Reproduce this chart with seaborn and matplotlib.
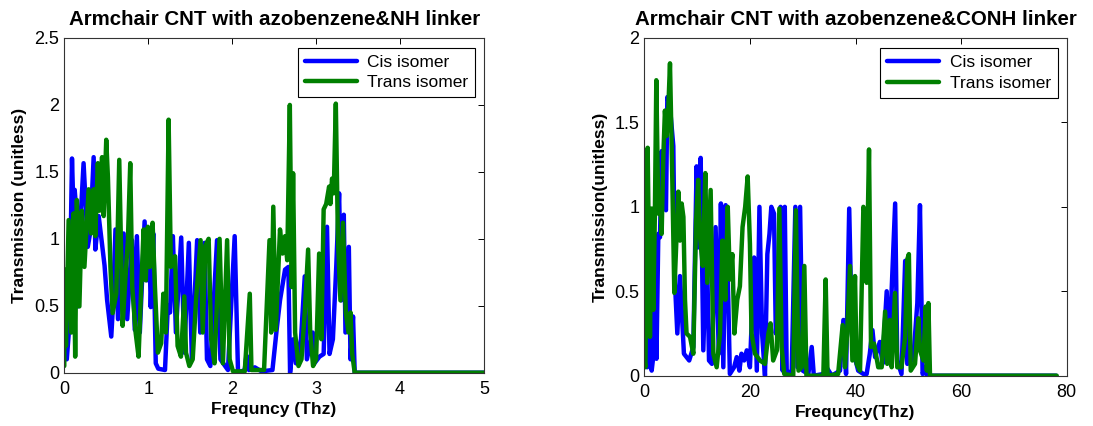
import matplotlib
matplotlib.use("Agg")
import matplotlib.pyplot as plt
import seaborn as sns
import pandas as pd

# ---------------- data: left panel (NH linker) ----------------
cis_nh_f = [0.0, 0.03, 0.06, 0.092, 0.11, 0.124, 0.145, 0.163, 0.19, 0.23, 0.26, 0.28, 0.31, 0.35,
            0.37, 0.41, 0.45, 0.48, 0.51, 0.56, 0.58, 0.61, 0.64, 0.707, 0.75, 0.806, 0.84, 0.865,
            0.90, 0.957, 0.984, 1.01, 1.03, 1.06, 1.09, 1.12, 1.20, 1.234, 1.26, 1.294, 1.33, 1.393,
            1.43, 1.484, 1.52, 1.583, 1.62, 1.671, 1.70, 1.74, 1.82, 1.86, 1.95, 2.03, 2.07, 2.15,
            2.17, 2.20, 2.27, 2.35, 2.48, 2.53, 2.57, 2.63, 2.67, 2.69, 2.73, 2.76, 2.82, 2.865,
            2.89, 2.96, 2.98, 3.04, 3.09, 3.13, 3.16, 3.20, 3.24, 3.274, 3.30, 3.33, 3.35, 3.39,
            3.41, 3.44, 3.46, 5.0]
cis_nh_t = [0.30, 0.10, 0.35, 1.60, 1.20, 1.366, 1.20, 0.495, 1.10, 1.565, 1.20, 0.94, 1.05, 1.61,
            0.92, 1.17, 0.96, 0.80, 0.545, 0.27, 0.50, 1.07, 0.40, 1.04, 0.40, 0.99, 0.32, 1.02,
            0.30, 1.13, 0.69, 1.05, 0.49, 1.04, 0.07, 0.03, 0.02, 0.50, 0.45, 1.02, 0.30, 1.01,
            0.15, 0.97, 0.10, 0.99, 0.30, 0.97, 0.10, 0.05, 0.99, 0.10, 0.02, 1.02, 0.0, 0.02,
            0.13, 0.02, 0.04, 0.01, 0.02, 0.32, 0.54, 0.77, 0.79, 0.0, 0.25, 0.07, 0.25, 0.72,
            0.10, 0.30, 0.07, 0.12, 0.14, 1.09, 0.14, 0.25, 0.79, 1.34, 0.54, 1.18, 0.30, 0.94,
            0.10, 0.42, 0.0, 0.0]

trans_nh_f = [0.0, 0.004, 0.02, 0.052, 0.084, 0.11, 0.13, 0.15, 0.18, 0.21, 0.24, 0.29, 0.32, 0.35,
              0.37, 0.40, 0.42, 0.45, 0.47, 0.50, 0.52, 0.55, 0.576, 0.62, 0.655, 0.695, 0.727,
              0.758, 0.786, 0.81, 0.85, 0.885, 0.917, 0.945, 0.97, 0.996, 1.02, 1.052, 1.08, 1.115,
              1.155, 1.18, 1.21, 1.243, 1.27, 1.32, 1.35, 1.39, 1.43, 1.45, 1.49, 1.53, 1.57, 1.624,
              1.65, 1.68, 1.72, 1.75, 1.79, 1.85, 1.89, 1.94, 1.97, 2.01, 2.15, 2.21, 2.23, 2.38,
              2.445, 2.465, 2.49, 2.52, 2.57, 2.60, 2.63, 2.656, 2.687, 2.71, 2.726, 2.75, 2.79,
              2.826, 2.865, 2.905, 2.93, 2.964, 3.0, 3.036, 3.063, 3.09, 3.12, 3.155, 3.17, 3.19,
              3.21, 3.235, 3.26, 3.29, 3.32, 3.354, 3.386, 3.41, 3.43, 3.46, 5.0]
trans_nh_t = [0.05, 0.77, 0.20, 1.14, 0.30, 1.19, 0.12, 1.29, 0.495, 1.21, 0.79, 1.37, 1.04, 1.37,
              1.02, 1.565, 1.21, 1.61, 1.17, 1.74, 1.46, 0.79, 0.445, 0.59, 1.59, 0.35, 0.69,
              0.99, 1.565, 0.64, 0.30, 0.12, 0.64, 1.07, 0.69, 1.09, 0.79, 1.12, 0.64, 0.15,
              0.22, 0.59, 0.30, 1.89, 0.79, 0.87, 0.20, 0.12, 0.57, 0.15, 0.05, 0.10, 0.545, 0.99,
              0.30, 0.95, 1.0, 0.25, 0.07, 1.0, 0.07, 0.99, 0.10, 0.01, 0.01, 0.59, 0.02, 0.02,
              0.99, 0.30, 1.24, 0.32, 1.07, 0.89, 1.02, 0.84, 2.0, 0.64, 1.49, 0.30, 0.05,
              0.10, 0.45, 0.92, 0.30, 0.05, 0.10, 0.89, 0.25, 1.22, 1.26, 1.39, 1.26, 1.45,
              1.34, 2.01, 1.0, 0.54, 1.12, 0.45, 0.30, 0.45, 0.14, 0.0, 0.0]

# ---------------- data: right panel (CONH linker) ----------------
cis_conh_f = [0.0, 0.57, 0.95, 1.39, 1.83, 2.0, 2.3, 2.65, 2.97, 3.28, 3.6, 4.1, 4.36, 4.86, 5.49,
              5.8, 6.25, 6.75, 7.5, 8.5, 9.28, 9.9, 10.2, 10.67, 11.17, 11.8, 12.25, 12.8, 13.5,
              14.1, 14.5, 14.96, 15.4, 15.9, 16.2, 17.0, 17.5, 18.0, 18.4, 18.9, 19.4, 20.0, 20.8,
              21.3, 21.8, 22.3, 22.85, 23.3, 23.7, 24.05, 24.56, 24.9, 25.4, 25.8, 26.2, 26.6,
              26.96, 27.9, 28.6, 29.0, 29.5, 30.0, 31.06, 31.7, 32.1, 33.9, 34.5, 35.5, 37.06,
              37.7, 38.2, 38.8, 39.3, 39.7, 40.5, 41.5, 42.1, 42.7, 43.2, 43.7, 44.6, 45.1, 45.9,
              46.3, 47.5, 47.9, 48.7, 49.4, 49.8, 50.6, 51.1, 51.7, 52.2, 52.7, 53.2, 53.5, 78.0]
cis_conh_t = [0.70, 0.05, 0.99, 0.03, 0.15, 0.49, 0.10, 0.84, 0.82, 1.33, 1.04, 0.98, 1.65, 1.59, 1.36,
              0.55, 0.25, 0.59, 0.13, 0.09, 0.17, 1.24, 0.76, 1.29, 0.15, 0.84, 0.09, 0.07, 0.88,
              0.13, 1.02, 0.05, 1.01, 0.45, 0.01, 0.05, 0.11, 0.03, 0.13, 0.09, 0.15, 0.05, 0.70,
              0.03, 1.0, 0.25, 0.0, 0.72, 0.84, 1.0, 0.96, 0.25, 0.45, 1.0, 0.03, 1.0,
              0.03, 0.01, 1.0, 0.05, 1.0, 0.03, 0.01, 0.17, 0.0, 0.01, 0.05, 0.0, 0.03,
              0.33, 0.01, 0.99, 0.25, 0.13, 0.03, 0.01, 0.01, 0.13, 0.27, 0.11, 0.20, 0.07, 0.50,
              0.09, 1.02, 0.09, 0.01, 0.68, 0.07, 0.09, 0.17, 0.43, 1.01, 0.01, 0.05, 0.0, 0.0]

trans_conh_f = [0.0, 0.2, 0.63, 1.07, 1.39, 1.7, 2.0, 2.27, 2.65, 2.97, 3.28, 3.6, 3.9, 4.23, 4.55,
                4.86, 5.3, 5.68, 6.12, 6.44, 6.75, 7.07, 7.4, 7.7, 8.0, 8.65, 9.28, 9.8, 10.2, 10.5,
                11.05, 11.55, 11.93, 12.56, 13.07, 13.7, 14.33, 14.8, 15.34, 15.8, 16.2, 16.67,
                17.05, 17.6, 18.1, 18.6, 19.1, 19.57, 20.0, 20.3, 20.96, 21.9, 22.85, 23.5, 23.9,
                24.4, 25.1, 25.57, 26.0, 26.5, 28.2, 28.7, 29.2, 29.8, 30.3, 30.7, 33.9, 34.34,
                34.7, 36.7, 37.56, 38.0, 38.4, 38.95, 39.4, 39.9, 40.2, 40.85, 41.48, 41.8, 42.1,
                42.55, 42.93, 43.5, 44.3, 44.95, 45.6, 46.0, 46.5, 46.84, 47.47, 47.9, 48.7, 49.4,
                49.8, 50.1, 50.45, 51.26, 51.9, 52.2, 52.84, 53.3, 53.5, 53.8, 54.1, 78.1]
trans_conh_t = [0.10, 0.05, 1.35, 0.23, 0.99, 0.39, 0.96, 1.75, 0.96, 1.06, 0.84, 1.30, 1.57, 1.42, 1.59,
                1.85, 1.16, 0.49, 0.84, 1.09, 0.80, 1.02, 0.94, 0.45, 0.25, 0.23, 0.13, 0.92, 1.16, 0.84,
                0.65, 1.20, 0.55, 1.10, 0.13, 0.05, 0.25, 0.80, 0.45, 1.0, 0.57, 0.72,
                0.25, 0.45, 0.53, 0.88, 1.0, 1.18, 0.78, 0.25, 0.13, 0.09, 0.07, 0.25, 0.31,
                0.09, 0.15, 0.99, 0.17, 0.01, 0.0, 0.98, 0.03, 0.05, 0.65, 0.0, 0.0, 0.57,
                0.0, 0.01, 0.30, 0.05, 0.25, 0.65, 0.09, 0.59, 0.07, 0.03, 1.0, 0.96, 0.55,
                1.34, 0.17, 0.19, 0.05, 0.05, 0.38, 0.07, 0.33, 0.05, 0.49, 0.05, 0.05, 0.23,
                0.69, 0.72, 0.03, 0.07, 0.34, 0.15, 0.09, 0.41, 0.03, 0.43, 0.0, 0.0]

series_labels = ["Cis isomer", "Trans isomer"]
titles = ["Armchair CNT with azobenzene&NH linker", "Armchair CNT with azobenzene&CONH linker"]
xlabels = ["Frequncy (Thz)", "Frequncy(Thz)"]
ylabels = ["Transmission (unitless)", "Transmission(unitless)"]
left_xticks = [0, 1, 2, 3, 4, 5]
left_yticks = [0, 0.5, 1, 1.5, 2, 2.5]
left_yticklabels = ["0", "0.5", "1", "1.5", "2", "2.5"]
right_xticks = [0, 20, 40, 60, 80]
right_yticks = [0, 0.5, 1, 1.5, 2]
right_yticklabels = ["0", "0.5", "1", "1.5", "2"]

# ---------------- style ----------------
sns.set_theme(style="white")
plt.rcParams["font.family"] = ["Liberation Sans", "DejaVu Sans"]
plt.rcParams["text.color"] = "black"
plt.rcParams["axes.labelcolor"] = "black"

BLUE = "#0000ff"
GREEN = "#007f00"

fig = plt.figure(figsize=(10.93, 4.26), dpi=100)
ax1 = fig.add_axes([0.0588, 0.1251, 0.3840, 0.7857])
ax2 = fig.add_axes([0.5895, 0.1181, 0.3865, 0.7927])

panels = [
    (ax1, cis_nh_f, cis_nh_t, trans_nh_f, trans_nh_t, (0, 5), (0, 2.5),
     left_xticks, [str(v) for v in left_xticks], left_yticks, left_yticklabels),
    (ax2, cis_conh_f, cis_conh_t, trans_conh_f, trans_conh_t, (0, 80), (0, 2),
     right_xticks, [str(v) for v in right_xticks], right_yticks, right_yticklabels),
]

for i, (ax, cf, ct, tf, tt, xl, yl, xt, xtl, yt, ytl) in enumerate(panels):
    df_c = pd.DataFrame({"f": cf, "T": ct})
    df_t = pd.DataFrame({"f": tf, "T": tt})
    sns.lineplot(data=df_c, x="f", y="T", ax=ax, color=BLUE, lw=3.2, label=series_labels[0],
                 estimator=None, sort=False, solid_joinstyle="round", solid_capstyle="round")
    sns.lineplot(data=df_t, x="f", y="T", ax=ax, color=GREEN, lw=3.2, label=series_labels[1],
                 estimator=None, sort=False, solid_joinstyle="round", solid_capstyle="round")
    ax.set_xlim(*xl)
    ax.set_ylim(*yl)
    ax.set_xticks(xt)
    ax.set_xticklabels(xtl)
    ax.set_yticks(yt)
    ax.set_yticklabels(ytl)
    ax.tick_params(direction="in", length=4, width=0.7, top=True, right=True,
                   labelsize=13, colors="black")
    ax.tick_params(axis="x", pad=6)
    ax.tick_params(axis="y", pad=3.5)
    for sp in ax.spines.values():
        sp.set_visible(True)
        sp.set_color("#333333")
        sp.set_linewidth(0.8)
    ax.set_title(titles[i], fontsize=14.8, fontweight="bold", pad=9, color="black")
    ax.set_xlabel(xlabels[i], fontsize=12.5, fontweight="bold", labelpad=3)
    ax.set_ylabel(ylabels[i], fontsize=12.5, fontweight="bold", labelpad=5)
    leg = ax.legend(loc="upper right", bbox_to_anchor=(0.979, 0.970), borderaxespad=0,
                    fontsize=12.5, handlelength=3.0, fancybox=False, framealpha=1,
                    edgecolor="black", borderpad=0.4, labelspacing=0.3, handletextpad=0.6)
    leg.get_frame().set_linewidth(0.8)
    for t in leg.get_texts():
        t.set_color("black")

fig.savefig("out.png", dpi=100)
